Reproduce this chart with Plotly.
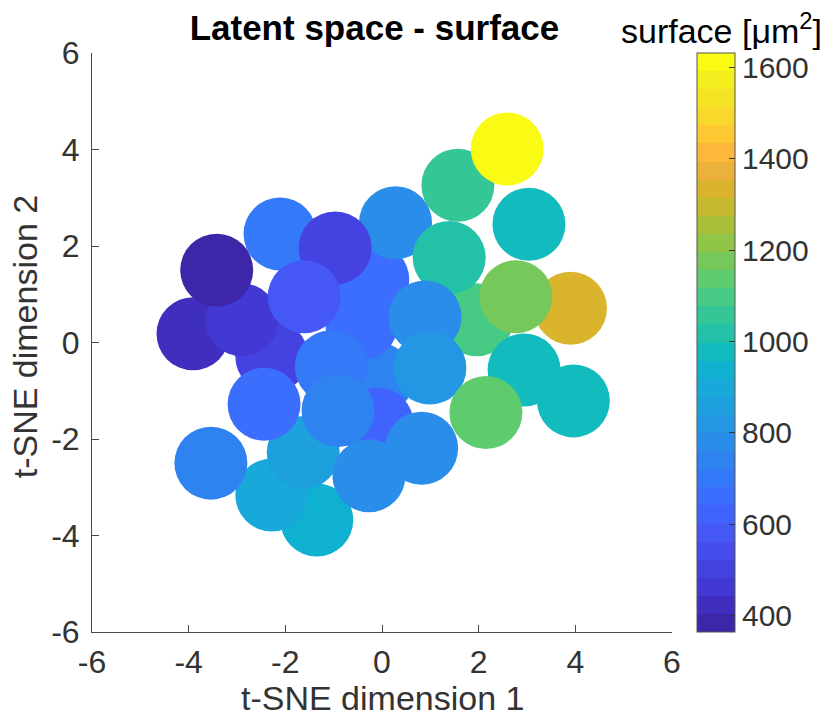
import plotly.graph_objects as go

# ---------------- data (in draw order) ----------------

tsne_x = [-3.91, -2.28, -2.11, -2.90, -3.42, -0.10, -0.42, -0.19, 0.28, -0.97,
          -1.61, -1.05, -1.35, -2.28, -3.54, -1.63, -2.44, -0.10, 0.82, -0.91,
          -0.27, 1.57, 2.59, 3.04, 3.90, 1.96, 1.39, 0.89, 0.99, 2.77,
          2.94, 3.96, 2.15]
tsne_y = [0.18, -0.29, 2.25, 0.47, 1.50, -0.75, 0.40, 1.30, 2.48, 1.96,
          0.95, -0.50, -3.68, -3.16, -2.50, -2.28, -1.28, -1.69, -2.19, -1.41,
          -2.76, 3.26, 4.01, 2.45, 0.71, 0.47, 1.76, 0.53, -0.53, 0.95,
          -0.57, -1.21, -1.45]
surface = [423, 503, 701, 463, 364, 740, 661, 655, 785, 498,
           582, 695, 938, 899, 745, 859, 665, 621, 776, 735,
           772, 1057, 1632, 985, 1334, 1097, 1017, 783, 819, 1176,
           975, 970, 1136]

axis_ticks = [-6, -4, -2, 0, 2, 4, 6]
axis_ticktext = ["-6", "-4", "-2", "0", "2", "4", "6"]
cbar_ticks = [400, 600, 800, 1000, 1200, 1400, 1600]

# parula, 32 levels (as seen in the colorbar)
parula32 = ["#3E26A8", "#402FBF", "#4238D3", "#4542E2", "#474DEC", "#4558F6",
            "#4063FD", "#3B6EFC", "#3479F7", "#2F83F0", "#2A8DEA", "#2397E4",
            "#1EA0DF", "#18A9DA", "#0EB1D0", "#12BBBE", "#23C1A8", "#34C696",
            "#47CA84", "#5ECB6E", "#77C85A", "#90C547", "#AABE38", "#C4B92F",
            "#DAB42C", "#EBB13A", "#FDB83B", "#FDC832", "#F8D82B", "#F5E424",
            "#F3EE1E", "#F9FB14"]

colorscale = []
n = len(parula32)
for i, c in enumerate(parula32):
    colorscale.append([i / n, c])
    colorscale.append([(i + 1) / n, c])

FONT = "Liberation Sans, Arial, Helvetica, sans-serif"
AX_COL = "#4a4a4a"
TXT_COL = "#333333"

# page body has an 8px margin -> figure is 8px smaller than the window
W, H = 824, 710

# ---------------- figure ----------------

fig = go.Figure()
fig.add_trace(go.Scatter(
    x=tsne_x,
    y=tsne_y,
    mode="markers",
    marker=dict(
        size=73,
        color=surface,
        colorscale=colorscale,
        line=dict(width=0),
        opacity=1,
        colorbar=dict(
            x=1.0431, xanchor="left",
            y=0.5, yanchor="middle",
            thickness=38, thicknessmode="pixels",
            len=579, lenmode="pixels",
            outlinewidth=1, outlinecolor="#555555",
            tickvals=cbar_ticks,
            ticks="inside", ticklen=6, tickcolor="#333333",
            tickfont=dict(family=FONT, size=30, color=TXT_COL),
            xpad=0, ypad=0,
        ),
    ),
    showlegend=False,
))

axis_common = dict(
    range=[-6, 6],
    tickvals=axis_ticks,
    ticktext=axis_ticktext,
    ticks="inside", ticklen=7, tickwidth=1, tickcolor=AX_COL,
    showline=True, linecolor=AX_COL, linewidth=1, mirror=False,
    showgrid=False, zeroline=False,
    tickfont=dict(family=FONT, size=32, color=TXT_COL),
)

fig.update_layout(
    width=W, height=H,
    margin=dict(l=84, r=160, t=45, b=86, autoexpand=False),
    paper_bgcolor="white", plot_bgcolor="white",
    xaxis=dict(**axis_common, ticklabelstandoff=2),
    yaxis=dict(**axis_common, ticklabelstandoff=5),
    title=dict(
        text="<b>Latent space - surface</b>",
        x=0.487, xref="paper", xanchor="center",
        y=1 - 20 / H, yref="container", yanchor="middle",
        font=dict(family=FONT, size=35, color="black"),
    ),
    annotations=[
        dict(text="surface [μm<sup>2</sup>]", x=1.086, y=1.043,
             xref="paper", yref="paper", xanchor="center", yanchor="middle",
             showarrow=False, font=dict(family=FONT, size=34, color="black")),
        dict(text="t-SNE dimension 1", x=0.5, y=-0.114,
             xref="paper", yref="paper", xanchor="center", yanchor="middle",
             showarrow=False, font=dict(family=FONT, size=34, color=TXT_COL)),
        dict(text="t-SNE dimension 2", x=-0.115, y=0.5095, textangle=-90,
             xref="paper", yref="paper", xanchor="center", yanchor="middle",
             showarrow=False, font=dict(family=FONT, size=34, color=TXT_COL)),
    ],
)

fig.write_html("out.html")
